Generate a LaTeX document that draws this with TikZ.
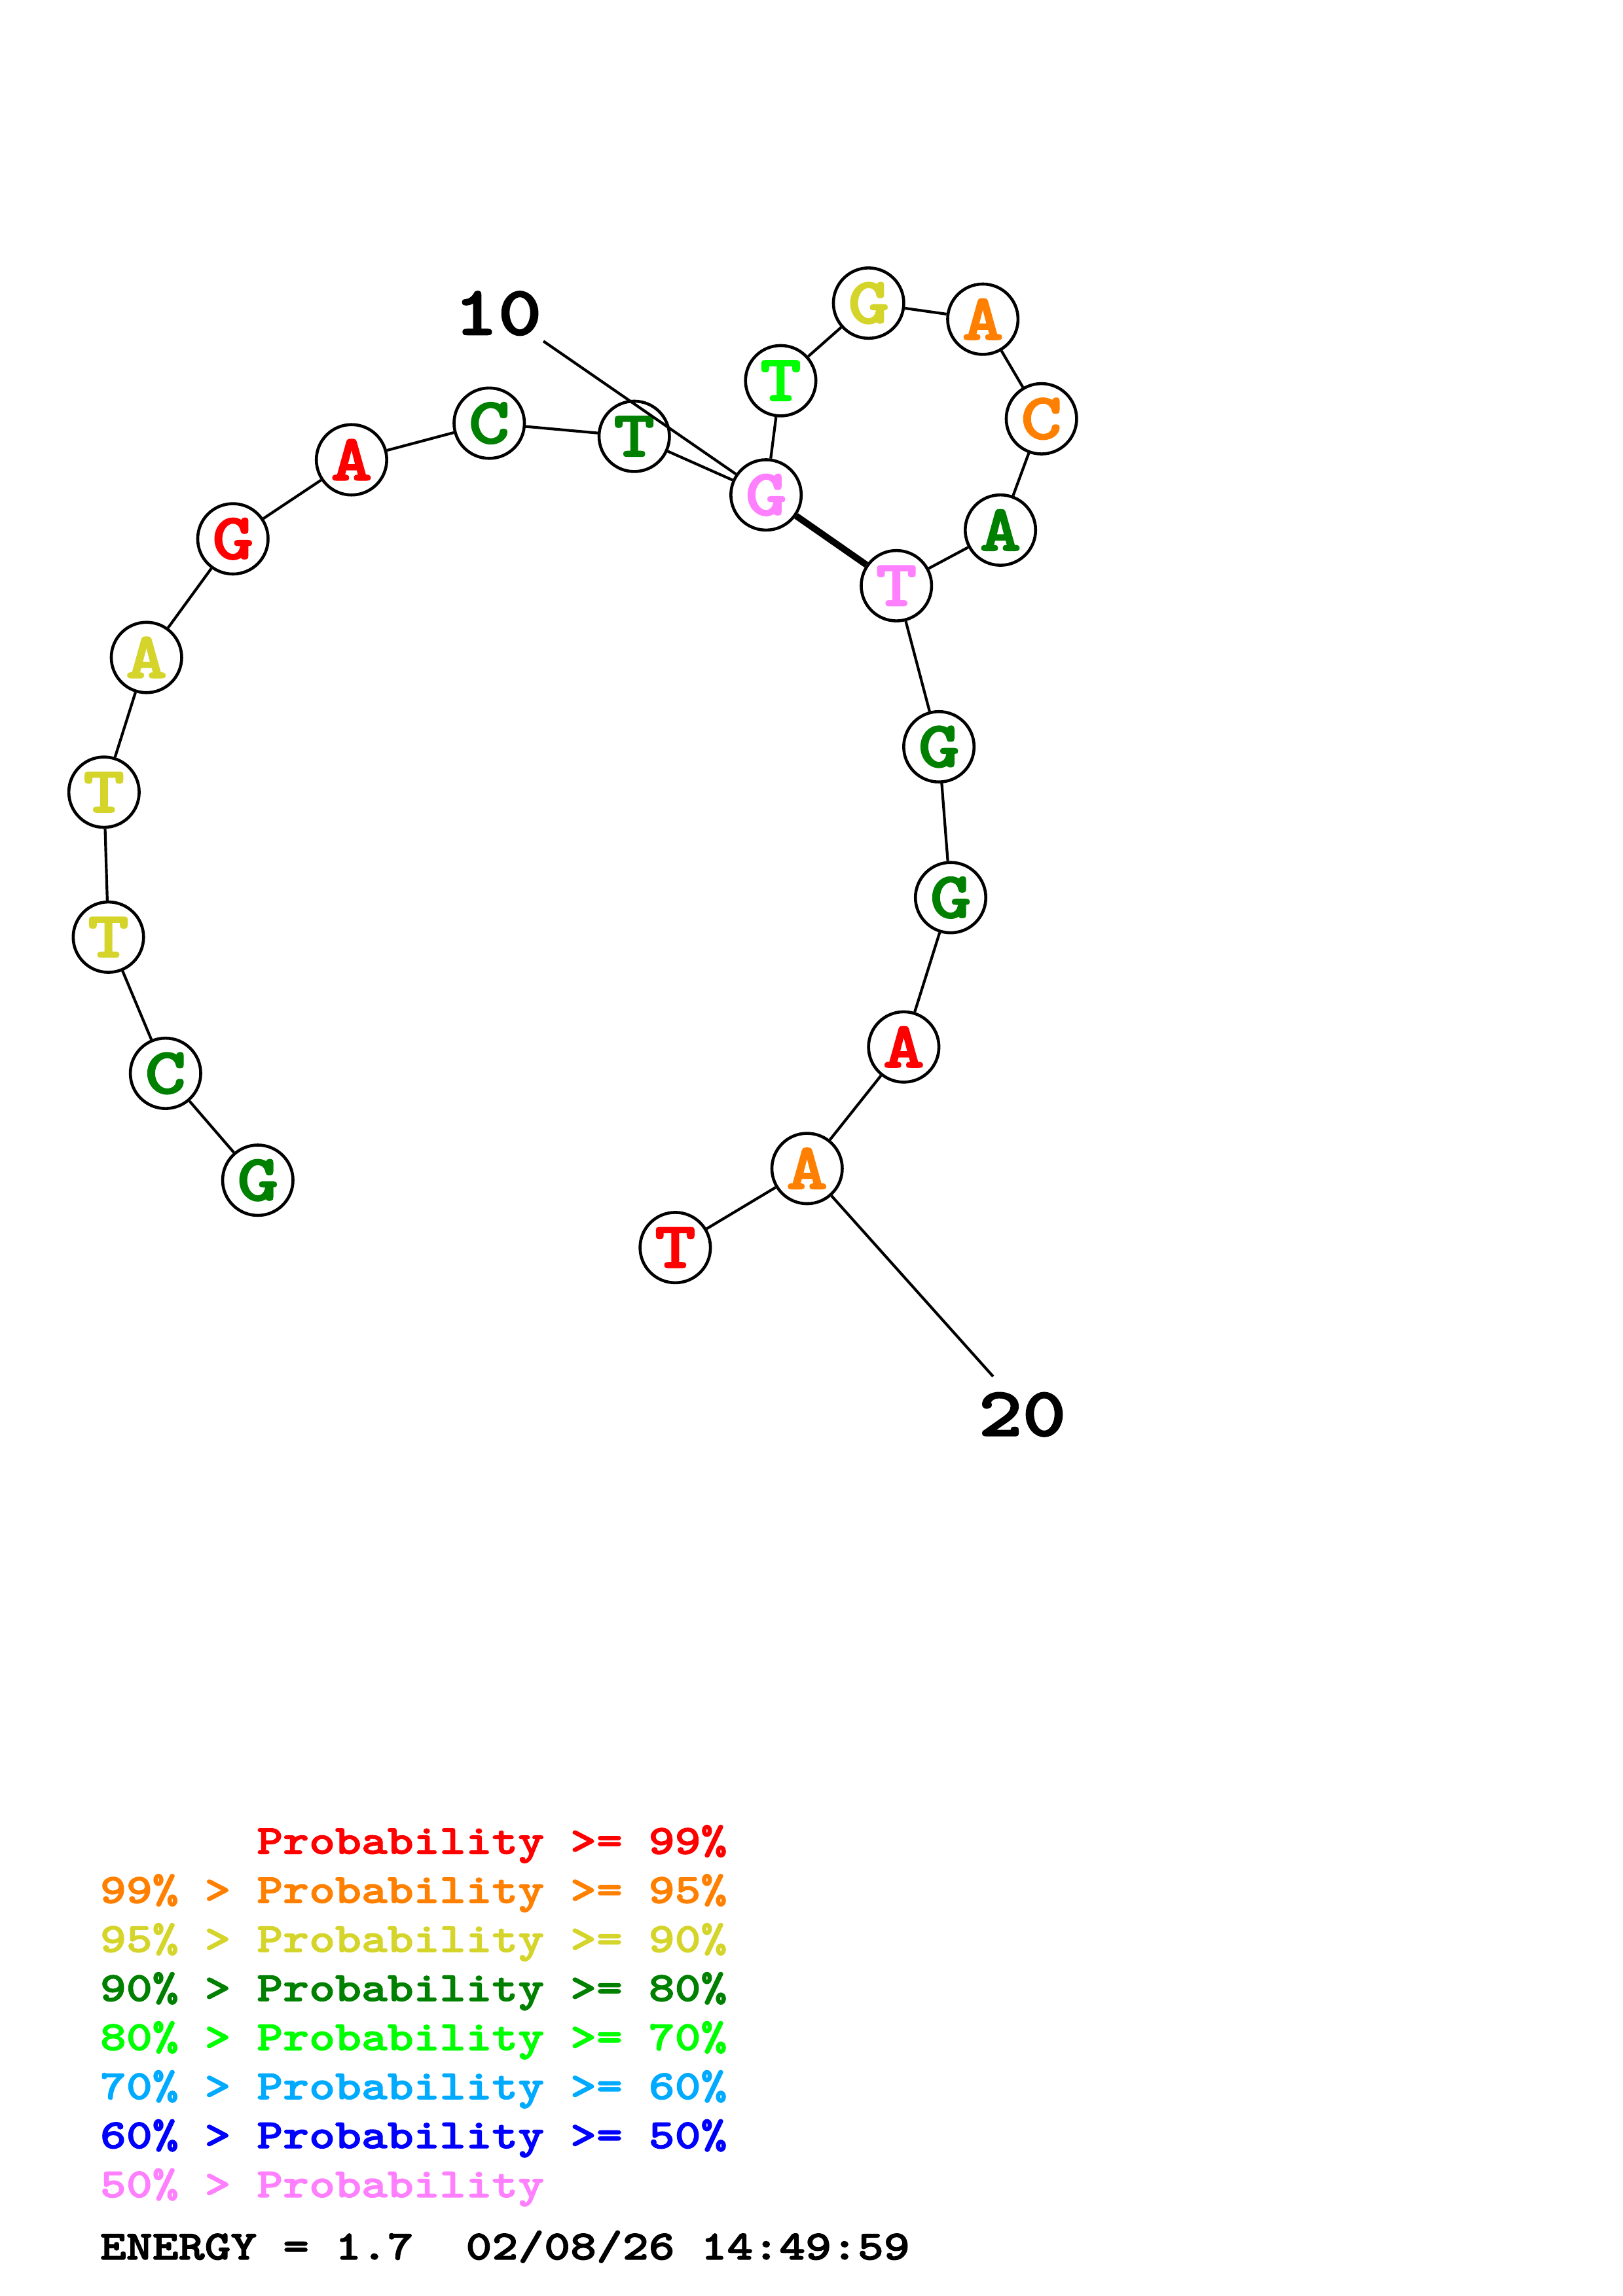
\documentclass[tikz,border=0pt]{standalone}
\usepackage{fontspec}
\newfontfamily\rnafont[FakeStretch=1.2, FakeBold=2]{lmmonolt10-bold.otf}
\usetikzlibrary{positioning}
\definecolor{pr99}{HTML}{FF0000}
\definecolor{pr95}{HTML}{FF8000}
\definecolor{pr90}{HTML}{D4D42A}
\definecolor{pr80}{HTML}{008000}
\definecolor{pr70}{HTML}{00FF00}
\definecolor{pr60}{HTML}{00AAFF}
\definecolor{pr50}{HTML}{0000FF}
\definecolor{prlow}{HTML}{FF80FF}

\begin{document}
\begin{tikzpicture}[
  x=0.537pt, y=-0.537pt,
  base/.style={draw, circle, fill=white, line width=1.1pt, inner sep=0pt, minimum size=25.8pt,
    font=\fontsize{24}{28}\rnafont},
  bb/.style={line width=1pt},
  pair/.style={line width=2.4pt},
  num/.style={font=\fontsize{25.5}{30}\rnafont, inner sep=1pt},
  leg/.style={font=\fontsize{15.2}{18}\rnafont, anchor=base west, inner sep=0pt},
]
\useasboundingbox (0,0) rectangle (1108,1568);

% --- 5' arm ------------------------------------------------------------------
\node[base, text=pr80] (n1) at (176,806) {G};
\node[base, text=pr80] (n2) at (113,733) {C};
\node[base, text=pr90] (n3) at (74,640) {T};
\node[base, text=pr90] (n4) at (71,541) {T};
\node[base, text=pr90] (n5) at (100,449) {A};
\node[base, text=pr99] (n6) at (159,368) {G};
\node[base, text=pr99] (n7) at (240,314) {A};
\node[base, text=pr80] (n8) at (334,289) {C};
\node[base, text=pr80] (n9) at (433,298) {T};
\node[base, text=prlow] (n10) at (523,338) {G};

% --- hairpin loop ------------------------------------------------------------
\node[base, text=pr70] (n11) at (533,260) {T};
\node[base, text=pr90] (n12) at (593,207) {G};
\node[base, text=pr95] (n13) at (671,218) {A};
\node[base, text=pr95] (n14) at (711,286) {C};
\node[base, text=pr80] (n15) at (683,362) {A};
\node[base, text=prlow] (n16) at (612,400) {T};

% --- 3' arm ------------------------------------------------------------------
\node[base, text=pr80] (n17) at (641,510) {G};
\node[base, text=pr80] (n18) at (649,613) {G};
\node[base, text=pr99] (n19) at (617,715) {A};
\node[base, text=pr95] (n20) at (551,798) {A};
\node[base, text=pr99] (n21) at (461,852) {T};

\draw[bb] (n1) -- (n2) -- (n3) -- (n4) -- (n5) -- (n6) -- (n7) -- (n8) -- (n9) -- (n10)
  -- (n11) -- (n12) -- (n13) -- (n14) -- (n15) -- (n16) -- (n17) -- (n18) -- (n19)
  -- (n20) -- (n21);
\draw[pair] (n10) -- (n16);

% --- position numbers --------------------------------------------------------
\node[num] (lab10) at (340,214) {10};
\coordinate (tick10) at (371,233);
\draw[bb] (tick10) -- (n10);
\node[num] (lab20) at (698,966) {20};
\coordinate (tick20) at (678,940);
\draw[bb] (tick20) -- (n20);

% --- legend ------------------------------------------------------------------
\node[leg, text=pr99] (leg1) at (68,1266) {\phantom{99\% > }Probability >= 99\%};
\node[leg, text=pr95] (leg2) at (68,1299.5) {99\% > Probability >= 95\%};
\node[leg, text=pr90] (leg3) at (68,1333) {95\% > Probability >= 90\%};
\node[leg, text=pr80] (leg4) at (68,1366.5) {90\% > Probability >= 80\%};
\node[leg, text=pr70] (leg5) at (68,1400) {80\% > Probability >= 70\%};
\node[leg, text=pr60] (leg6) at (68,1433.5) {70\% > Probability >= 60\%};
\node[leg, text=pr50] (leg7) at (68,1467) {60\% > Probability >= 50\%};
\node[leg, text=prlow] (leg8) at (68,1500.5) {50\% > Probability};
\node[leg] (energy) at (68,1543) {ENERGY = 1.7\ \ 02/08/26 14:49:59};

\end{tikzpicture}
\end{document}
